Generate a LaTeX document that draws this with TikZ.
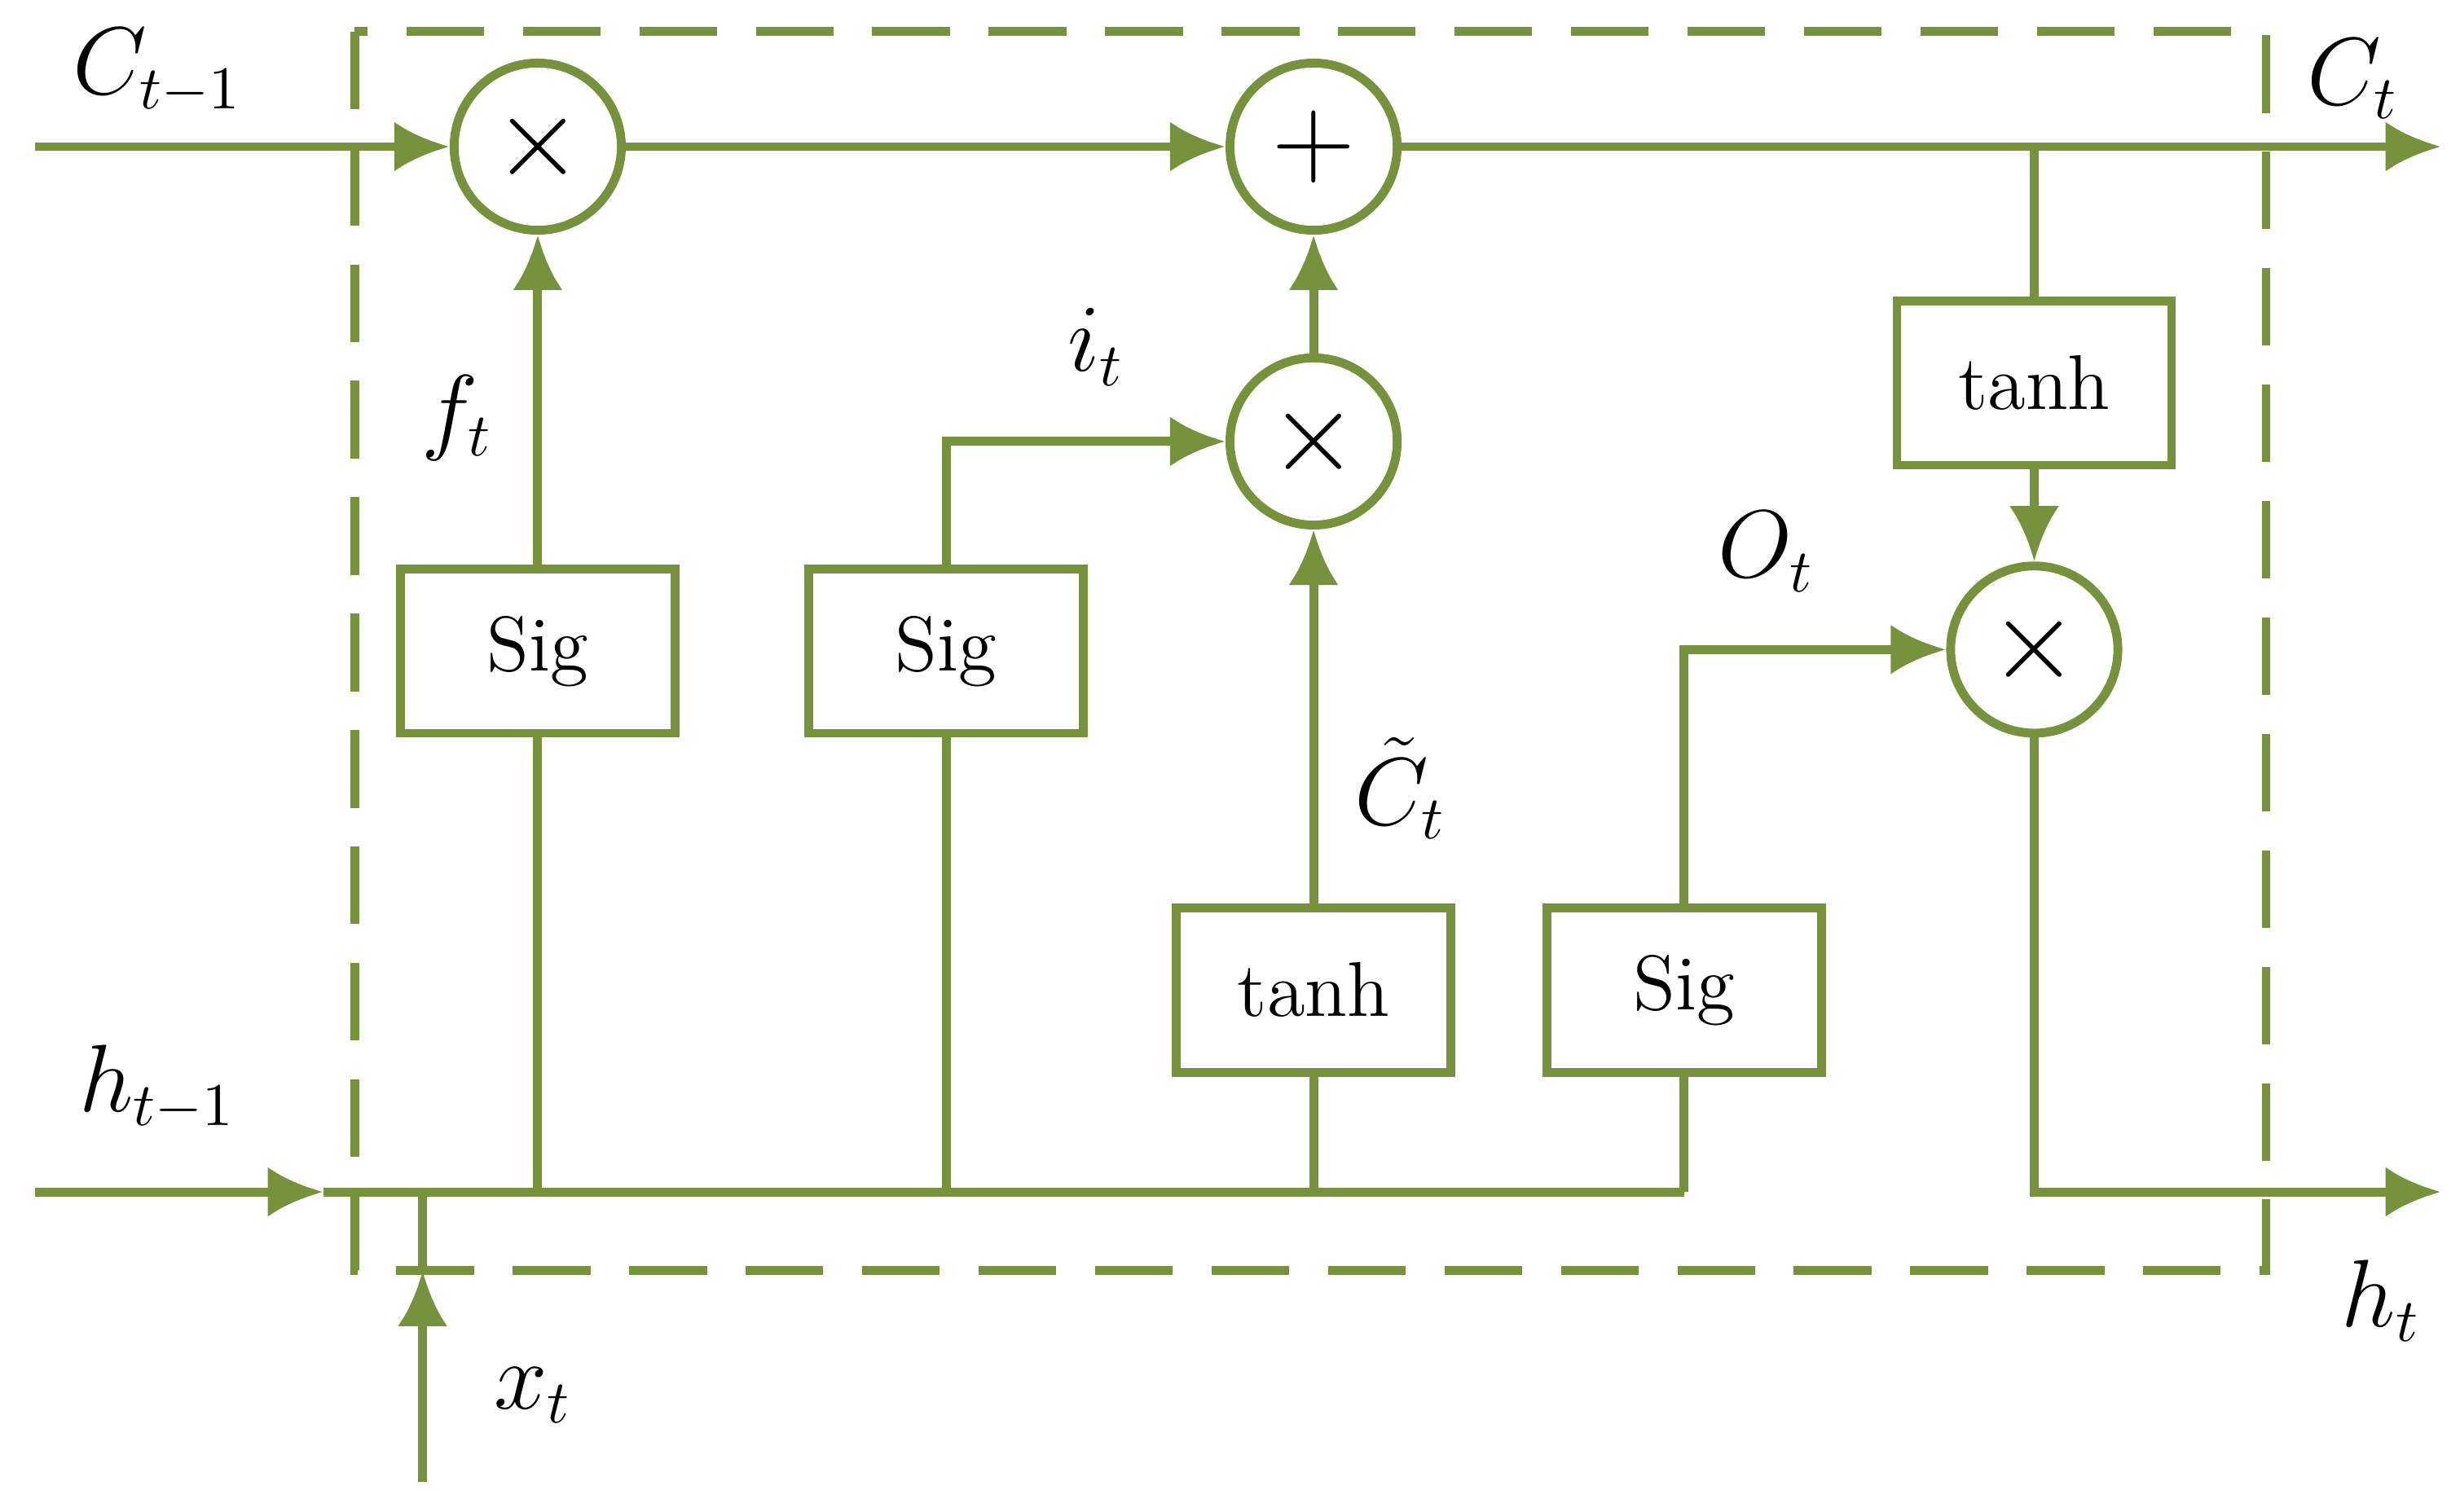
\documentclass[tikz,border=0pt]{standalone}
\usepackage{amsmath}
\usetikzlibrary{arrows.meta, positioning}
\definecolor{olive}{RGB}{118,146,60}
\tikzset{
  >={Latex[length=10pt,width=9pt]}, % filled arrow heads
  wire/.style={draw=olive, line width=1.6pt},
  op/.style={circle, draw=olive, line width=1.6pt, minimum size=1.06cm, inner sep=0pt, font=\fontsize{20}{22}\selectfont},
  gate/.style={rectangle, draw=olive, line width=1.6pt, minimum width=1.74cm, minimum height=1.04cm, font=\fontsize{14}{16}\selectfont},
  lab/.style={font=\fontsize{16}{18}\selectfont},
}
\begin{document}
\begin{tikzpicture}[x=0.01cm, y=-0.01cm]
        \useasboundingbox (0,0) rectangle (1560,959);
        % cell frame
        \draw[wire, dashed, dash pattern=on 14pt off 7pt] (225,20) rectangle (1437,806);

        % operations
        \node[op] (m1) at (341,93) {$\times$};
        \node[op] (add) at (833,93) {$+$};
        \node[op] (m2) at (833,280) {$\times$};
        \node[op] (m3) at (1290,412) {$\times$};

        % gates
        \node[gate] (sigf) at (341,413) {Sig};
        \node[gate] (sigi) at (600,413) {Sig};
        \node[gate] (tanc) at (833,628) {tanh};
        \node[gate] (sigo) at (1068,628) {Sig};
        \node[gate] (tanh) at (1290,243) {tanh};

        % cell state
        \coordinate (cin) at (22,93);
        \coordinate (cout) at (1548,93);
        \coordinate (csplit) at (1290,93);
        \draw[wire, ->] (cin) -- (m1);
        \draw[wire, ->] (m1) -- (add);
        \draw[wire, ->] (add) -- (cout);
        \draw[wire] (csplit) -- (tanh);
        \draw[wire, ->] (tanh) -- (m3);

        % hidden state
        \coordinate (hin) at (22,756);
        \coordinate (hjoin) at (205,756);
        \coordinate (hend) at (1068,756);
        \coordinate (hout) at (1548,756);
        \coordinate (xin) at (268,940);
        \coordinate (xtip) at (268,806);
        \coordinate (xjoin) at (268,756);
        \draw[wire, ->] (hin) -- (hjoin);
        \draw[wire] (hjoin) -- (hend);
        \draw[wire, ->] (xin) -- (xtip);
        \draw[wire] (xtip) -- (xjoin);
        \draw[wire] (sigf.south) -- (sigf.south |- hjoin);
        \draw[wire] (sigi.south) -- (sigi.south |- hjoin);
        \draw[wire] (tanc.south) -- (tanc.south |- hjoin);
        \draw[wire] (sigo.south) -- (hend);
        \draw[wire, ->] (m3) |- (hout);

        % gate outputs
        \draw[wire, ->] (sigf) -- (m1);
        \draw[wire, ->] (sigi) |- (m2);
        \draw[wire, ->] (tanc) -- (m2);
        \draw[wire, ->] (m2) -- (add);
        \draw[wire, ->] (sigo) |- (m3);

        % labels
        \node[lab] (lcin) at (100,45) {$C_{t-1}$};
        \node[lab] (lcout) at (1492,50) {$C_t$};
        \node[lab] (lhin) at (100,690) {$h_{t-1}$};
        \node[lab] (lhout) at (1510,825) {$h_t$};
        \node[lab] (lx) at (338,885) {$x_t$};
        \node[lab] (lf) at (290,265) {$f_t$};
        \node[lab] (li) at (695,220) {$i_t$};
        \node[lab] (lct) at (888,500) {$\tilde{C}_t$};
        \node[lab] (lo) at (1120,350) {$O_t$};
\end{tikzpicture}
\end{document}
